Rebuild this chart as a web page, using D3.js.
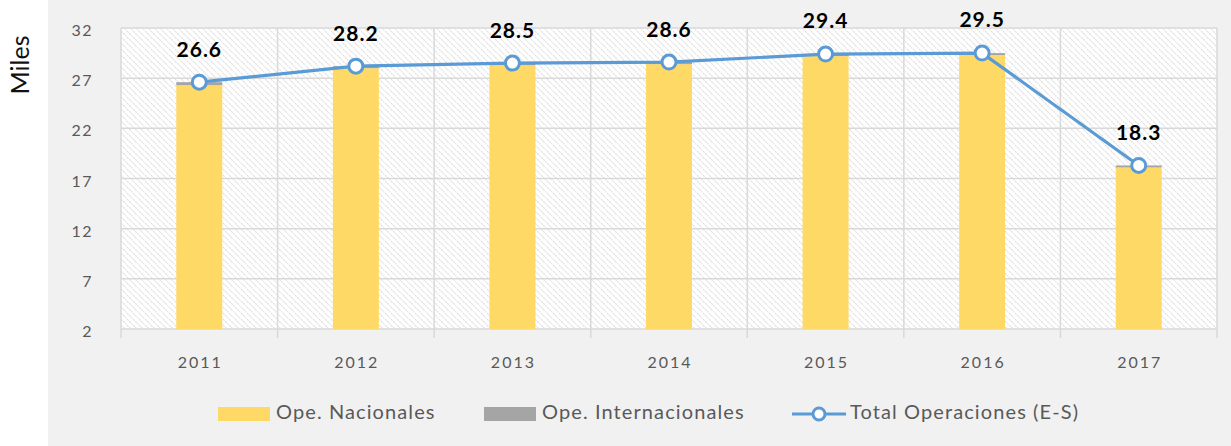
<!DOCTYPE html>
<html><head><meta charset="utf-8">
<script src="https://cdn.jsdelivr.net/npm/d3@7"></script>
<style>body{margin:0;background:#fff}svg{display:block}</style>
</head><body>
<svg id="c" width="1231" height="446"></svg>
<script>
const years = ["2011","2012","2013","2014","2015","2016","2017"];
const nacionales = [26.3, 28.0, 28.3, 28.4, 29.2, 29.3, 18.1];
const internacionales = [0.3, 0.2, 0.2, 0.2, 0.2, 0.2, 0.2];
const totales = [26.6, 28.2, 28.5, 28.6, 29.4, 29.5, 18.3];
const yTicks = [2, 7, 12, 17, 22, 27, 32];
const legendLabels = ["Ope. Nacionales", "Ope. Internacionales", "Total Operaciones (E-S)"];

const svg = d3.select("#c");
const font = "Lato, 'Open Sans', sans-serif";
svg.append("rect").attr("x",48).attr("y",0).attr("width",1183).attr("height",446).attr("fill","#f1f1f1");

const defs = svg.append("defs");
const pat = defs.append("pattern").attr("id","hatch").attr("patternUnits","userSpaceOnUse")
  .attr("width",6).attr("height",6);
pat.append("rect").attr("width",6).attr("height",6).attr("fill","#fff");
pat.append("path").attr("d","M-1,-1 L7,7 M-1,5 L1,7 M5,-1 L7,1").attr("stroke","#dcdcdc").attr("stroke-width",1.1).attr("stroke-dasharray","2,1");

const L=121, R=1217, T=28, B=329;
const x = d3.scaleBand().domain(years).range([L,R]);
const y = d3.scaleLinear().domain([2,32]).range([B,T]);

svg.append("rect").attr("x",L).attr("y",T).attr("width",R-L).attr("height",B-T).attr("fill","url(#hatch)");

const g = svg.append("g");
g.selectAll("line.h").data(yTicks).join("line")
  .attr("x1",L).attr("x2",R).attr("y1",d=>y(d)).attr("y2",d=>y(d))
  .attr("stroke","#d9d9d9").attr("stroke-width",1.5);
const seps = years.map(d=>x(d)).concat([R]);
g.selectAll("line.v").data(seps).join("line")
  .attr("x1",d=>d).attr("x2",d=>d).attr("y1",T).attr("y2",B+9)
  .attr("stroke","#d9d9d9").attr("stroke-width",1.5);

svg.selectAll("text.yt").data(yTicks).join("text")
  .attr("x",93).attr("y",d=>y(d)+4).attr("text-anchor","end").attr("dominant-baseline","middle")
  .attr("font-family",font).attr("font-size",16).attr("fill","#595959").attr("letter-spacing",1.5)
  .text(d=>d);
svg.selectAll("text.xt").data(years).join("text")
  .attr("x",d=>x(d)+x.bandwidth()/2+1).attr("y",364).attr("text-anchor","middle").attr("dominant-baseline","middle")
  .attr("font-family",font).attr("font-size",16).attr("fill","#595959").attr("letter-spacing",2)
  .text(d=>d);

svg.append("text").attr("transform","translate(23,65) rotate(-90)").attr("text-anchor","middle")
  .attr("dominant-baseline","middle")
  .attr("font-family",font).attr("font-size",25).attr("fill","#111").text("Miles");

const bw = 46;
const bx = d=>x(d)+x.bandwidth()/2-bw/2;
const plot = svg.append("g");
plot.selectAll("rect.n").data(years).join("rect")
  .attr("x",bx).attr("width",bw)
  .attr("y",(d,i)=>y(nacionales[i])).attr("height",(d,i)=>B-y(nacionales[i]))
  .attr("fill","#ffd966");
plot.selectAll("rect.i").data(years).join("rect")
  .attr("x",bx).attr("width",bw)
  .attr("y",(d,i)=>y(nacionales[i]+internacionales[i])).attr("height",(d,i)=>y(nacionales[i])-y(nacionales[i]+internacionales[i]))
  .attr("fill","#a5a5a5");

const cx = d=>x(d)+x.bandwidth()/2;
const line = d3.line().x((d,i)=>cx(years[i])).y(d=>y(d));
plot.append("path").datum(totales).attr("d",line).attr("fill","none")
  .attr("stroke","#5b9bd5").attr("stroke-width",3.2);
plot.selectAll("circle.p").data(totales).join("circle")
  .attr("cx",(d,i)=>cx(years[i])).attr("cy",d=>y(d)).attr("r",7)
  .attr("fill","#fff").attr("stroke","#5b9bd5").attr("stroke-width",3);
plot.selectAll("text.lab").data(totales).join("text")
  .attr("x",(d,i)=>cx(years[i])).attr("y",d=>y(d)-31).attr("text-anchor","middle").attr("dominant-baseline","middle")
  .attr("font-family",font).attr("font-size",21).attr("font-weight","bold").attr("fill","#000").attr("letter-spacing",1)
  .text(d=>d.toFixed(1));

const lg = svg.append("g").attr("font-family",font).attr("font-size",20).attr("fill","#595959").attr("letter-spacing",1.1);
lg.append("rect").attr("x",218).attr("y",407).attr("width",52).attr("height",14).attr("fill","#ffd966");
lg.append("text").attr("x",276).attr("y",414).attr("dominant-baseline","middle").text(legendLabels[0]);
lg.append("rect").attr("x",484).attr("y",407).attr("width",52).attr("height",14).attr("fill","#a5a5a5");
lg.append("text").attr("x",542).attr("y",414).attr("dominant-baseline","middle").text(legendLabels[1]);
lg.append("line").attr("x1",792).attr("x2",846).attr("y1",414).attr("y2",414).attr("stroke","#5b9bd5").attr("stroke-width",3);
lg.append("circle").attr("cx",819).attr("cy",414).attr("r",6).attr("fill","#fff").attr("stroke","#5b9bd5").attr("stroke-width",3);
lg.append("text").attr("x",850).attr("y",414).attr("dominant-baseline","middle").text(legendLabels[2]);
</script>
</body></html>
